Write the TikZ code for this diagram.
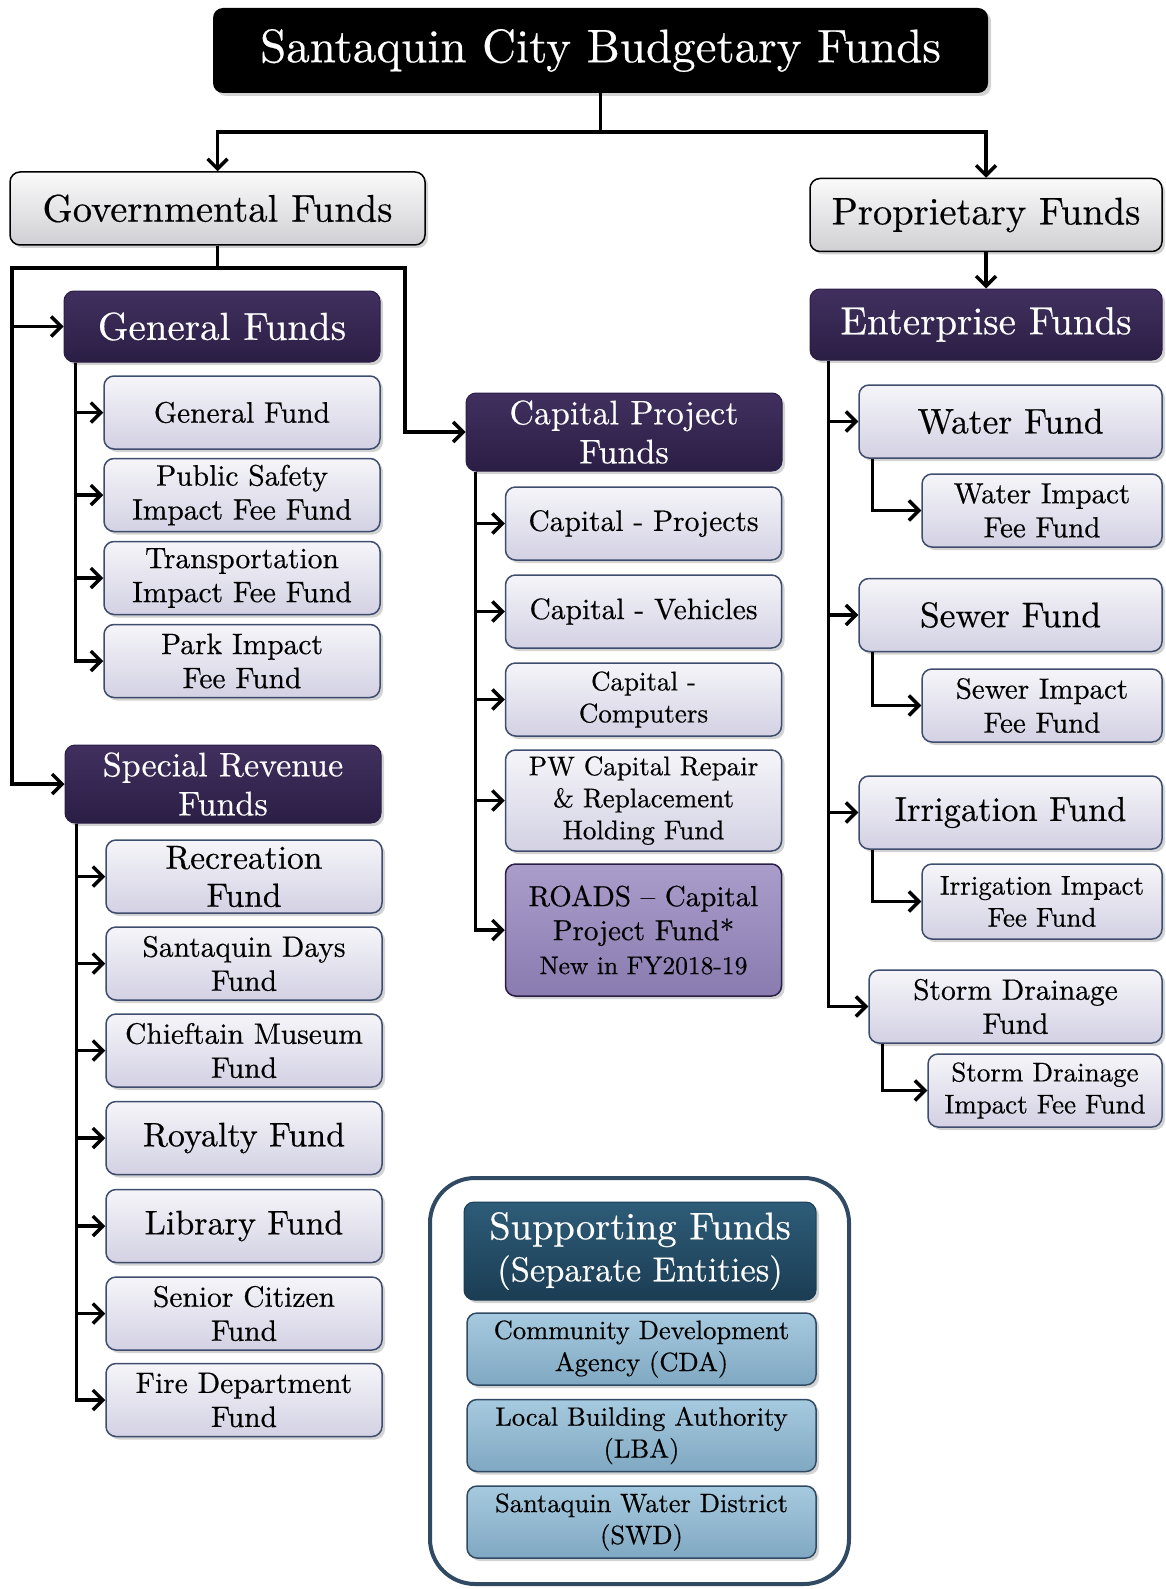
\documentclass[tikz,border=0pt]{standalone}
\usepackage{fontspec}
\setmainfont{lmroman10-regular.otf}[FakeBold=0.45]
\usetikzlibrary{arrows.meta,shadows}

\definecolor{headtop}{HTML}{41305F}
\definecolor{headbot}{HTML}{2B1E45}
\definecolor{fundtop}{HTML}{F5F5F9}
\definecolor{fundbot}{HTML}{D3D1E3}
\definecolor{fundline}{HTML}{3E4D6E}
\definecolor{grouptop}{HTML}{FAFAFA}
\definecolor{groupbot}{HTML}{D0D0D4}
\definecolor{newtop}{HTML}{AA9DCA}
\definecolor{newbot}{HTML}{8A7BB0}
\definecolor{supptop}{HTML}{2E5C78}
\definecolor{suppbot}{HTML}{1B3D54}
\definecolor{entitytop}{HTML}{A6CADF}
\definecolor{entitybot}{HTML}{80A8C2}
\definecolor{suppline}{HTML}{2F4A62}

\begin{document}
\begin{tikzpicture}
  [
    x                 = 1pt,
    y                 = -1pt,
    every node/.style = {align=center, inner sep=1pt},
    shade/.style      = {drop shadow={shadow xshift=3pt, shadow yshift=-3pt, opacity=.35}},
    titlebox/.style   = {shade, rounded corners=10pt, fill=black, text=white,
                         minimum width=775pt, minimum height=85pt,
                         font=\fontsize{47}{53}\selectfont},
    groupbox/.style   = {shade, rounded corners=10pt, draw=black, line width=1.5pt,
                         top color=grouptop, bottom color=groupbot,
                         minimum height=73pt, font=\fontsize{38.5}{44}\selectfont},
    headbox/.style    = {shade, rounded corners=10pt, draw=headbot, line width=1pt,
                         top color=headtop, bottom color=headbot, text=white,
                         minimum width=316pt, minimum height=71pt,
                         font=\fontsize{39}{44}\selectfont},
    fundbox/.style    = {shade, rounded corners=10pt, draw=fundline, line width=1.5pt,
                         top color=fundtop, bottom color=fundbot,
                         minimum width=276pt, minimum height=73pt,
                         font=\fontsize{29.5}{34}\selectfont},
    newbox/.style     = {fundbox, top color=newtop, bottom color=newbot, draw=headbot},
    supphead/.style   = {shade, rounded corners=10pt, draw=suppbot, line width=1pt,
                         top color=supptop, bottom color=suppbot, text=white,
                         minimum width=352pt, minimum height=98pt,
                         font=\fontsize{38.5}{42}\selectfont},
    entitybox/.style  = {shade, rounded corners=10pt, draw=suppline, line width=1.5pt,
                         top color=entitytop, bottom color=entitybot,
                         minimum width=349pt, minimum height=72pt,
                         font=\fontsize{26.5}{32}\selectfont},
    suppframe/.style  = {draw=suppline, line width=4pt, rounded corners=45pt},
    link/.style       = {draw, line width=3.5pt, -{Straight Barb[length=10pt,width=20pt]}}
  ]
  \useasboundingbox (0,0) rectangle (1165,1589);

  \node[titlebox] (title) at (600.5,50.5) {Santaquin City Budgetary Funds};
  \node[groupbox, minimum width=415pt] (gov) at (217.5,208.5) {Governmental Funds};
  \node[groupbox, minimum width=352pt] (prop) at (986,215) {Proprietary Funds};

  \node[headbox] (general) at (222,326.5) {General Funds};
  \node[headbox, minimum height=78pt, font=\fontsize{34}{39}\selectfont]
    (special) at (223,784) {Special Revenue\\Funds};
  \node[headbox, minimum height=78pt, font=\fontsize{34}{39}\selectfont]
    (capital) at (624,432) {Capital Project\\Funds};
  \node[headbox, minimum width=352pt] (enterprise) at (986,324.5) {Enterprise Funds};

  \node[fundbox] (genfund) at (242,412.5) {General Fund};
  \node[fundbox] (safety) at (242,495) {Public Safety\\Impact Fee Fund};
  \node[fundbox] (transport) at (242,578) {Transportation\\Impact Fee Fund};
  \node[fundbox] (park) at (242,661) {Park Impact\\Fee Fund};

  \node[fundbox, font=\fontsize{33.5}{38}\selectfont] (recreation) at (244,876.5) {Recreation\\Fund};
  \node[fundbox] (days) at (244,963.5) {Santaquin Days\\Fund};
  \node[fundbox] (museum) at (244,1050.5) {Chieftain Museum\\Fund};
  \node[fundbox, font=\fontsize{34}{38}\selectfont] (royalty) at (244,1138) {Royalty Fund};
  \node[fundbox, font=\fontsize{34}{38}\selectfont] (library) at (244,1226) {Library Fund};
  \node[fundbox] (senior) at (244,1313.5) {Senior Citizen\\Fund};
  \node[fundbox] (fire) at (244,1400) {Fire Department\\Fund};

  \node[fundbox] (projects) at (643.5,523.5) {Capital - Projects};
  \node[fundbox] (vehicles) at (643.5,611.5) {Capital - Vehicles};
  \node[fundbox, font=\fontsize{27}{32}\selectfont] (computers) at (643.5,699.5) {Capital -\\Computers};
  \node[fundbox, minimum height=101pt, font=\fontsize{27}{32}\selectfont]
    (pwrepair) at (643.5,800.5) {PW Capital Repair\\\& Replacement\\Holding Fund};
  \node[newbox, minimum height=132pt, font=\fontsize{29}{34}\selectfont]
    (roads) at (643.5,930) {ROADS -- Capital\\Project Fund*\\{\fontsize{25.5}{32}\selectfont New in FY2018-19}};

  \node[fundbox, minimum width=303pt, font=\fontsize{35.5}{40}\selectfont] (water) at (1010.5,421.5) {Water Fund};
  \node[fundbox, minimum width=240pt, font=\fontsize{29}{34}\selectfont] (waterimp) at (1042,510.5) {Water Impact\\Fee Fund};
  \node[fundbox, minimum width=303pt, font=\fontsize{35.5}{40}\selectfont] (sewer) at (1010.5,615) {Sewer Fund};
  \node[fundbox, minimum width=240pt, font=\fontsize{29}{34}\selectfont] (sewerimp) at (1042,705.5) {Sewer Impact\\Fee Fund};
  \node[fundbox, minimum width=303pt, font=\fontsize{34.5}{40}\selectfont] (irrigation) at (1010.5,812.5) {Irrigation Fund};
  \node[fundbox, minimum width=240pt, minimum height=75pt, font=\fontsize{27}{32}\selectfont]
    (irrigationimp) at (1042,901.5) {Irrigation Impact\\Fee Fund};
  \node[fundbox, minimum width=293pt] (storm) at (1015.5,1006.5) {Storm Drainage\\Fund};
  \node[fundbox, minimum width=234pt, font=\fontsize{27}{32}\selectfont]
    (stormimp) at (1045,1090.5) {Storm Drainage\\Impact Fee Fund};

  \draw[suppframe] (430,1178) rectangle (849,1584);
  \node[supphead] (supporting) at (640,1251) {Supporting Funds\\{\fontsize{34.5}{42}\selectfont (Separate Entities)}};
  \node[entitybox] (cda) at (641.5,1349) {Community Development\\Agency (CDA)};
  \node[entitybox] (lba) at (641.5,1435.5) {Local Building Authority\\(LBA)};
  \node[entitybox] (swd) at (641.5,1522) {Santaquin Water District\\(SWD)};

  \coordinate (split) at (600.5,132);
  \draw[link] (title.south) -- (split) -| (gov.north);
  \draw[link] (split) -| (prop.north);
  \draw[link] (prop.south) -- (enterprise.north);

  \coordinate (govleft) at (12,268);
  \coordinate (govright) at (405,268);
  \draw[link] (gov.south) |- (govleft) |- (general.west);
  \draw[link] (govleft) |- (special.west);
  \draw[link] (gov.south) |- (govright) |- (capital.west);

  \foreach \fund in {genfund,safety,transport,park}
    \draw[link] ([xshift=12pt]general.south west) |- (\fund.west);
  \foreach \fund in {recreation,days,museum,royalty,library,senior,fire}
    \draw[link] ([xshift=12pt]special.south west) |- (\fund.west);
  \foreach \fund in {projects,vehicles,computers,pwrepair,roads}
    \draw[link] ([xshift=10pt]capital.south west) |- (\fund.west);
  \foreach \fund in {water,sewer,irrigation,storm}
    \draw[link] ([xshift=19pt]enterprise.south west) |- (\fund.west);
  \foreach \fund/\impact in {water/waterimp,sewer/sewerimp,irrigation/irrigationimp,storm/stormimp}
    \draw[link] ([xshift=14pt]\fund.south west) |- (\impact.west);
\end{tikzpicture}
\end{document}
